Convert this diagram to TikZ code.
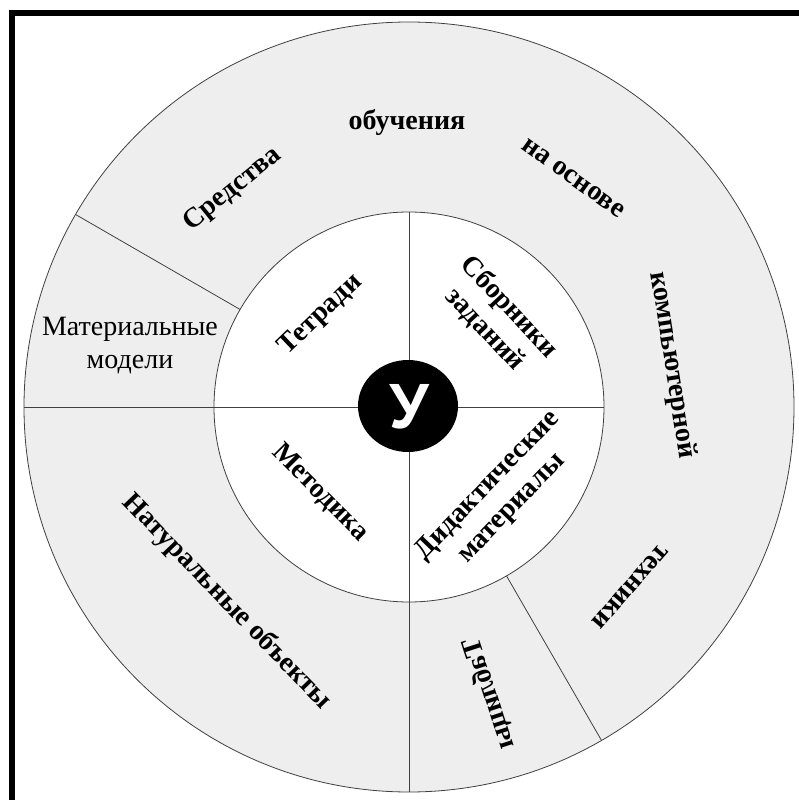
\documentclass[tikz,border=0pt]{standalone}
\usepackage{fontspec}
\setmainfont{Liberation Serif}
\newfontfamily\sansbold{Liberation Sans}
\definecolor{ringgray}{HTML}{EEEEEE}
\definecolor{linegray}{HTML}{404040}
\begin{document}
\begin{tikzpicture}[x=1pt,y=1pt,
  ringline/.style={draw=linegray, line width=0.8pt},
  btxt/.style={font=\fontsize{28}{33}\selectfont\bfseries, align=center, inner sep=0pt},
  rtxt/.style={font=\fontsize{28}{33}\selectfont, align=center, inner sep=0pt}]
\useasboundingbox (-409,-393) rectangle (390,407);
\fill[white] (-409,-393) rectangle (390,407);
% frame
\draw[line width=6pt, line join=miter] (-397,-400) -- (-397,394) -- (395,394);
% rings
\fill[ringgray] (0,0) circle (385);
\draw[ringline] (0,0) circle (385);
\fill[white] (0,0) circle (195);
\draw[ringline] (0,0) circle (195);
% dividers
\draw[ringline] (-385,0) -- (195,0);
\draw[ringline] (0,195) -- (0,-385);
\draw[ringline] (150:195) -- (150:385);
\draw[ringline] (300:195) -- (300:385);
% centre
\fill[black] (-1,1) ellipse (50 and 46);
\node[font=\fontsize{64}{64}\selectfont\sansbold\bfseries, text=white, inner sep=0pt] (u) at (0,0) {У};
% outer ring texts
\node[btxt, rotate=39] (sredstva) at (129:280) {Средства};
\node[btxt] (obuch) at (-2,284) {обучения};
\node[btxt, rotate=-35.6] (naosnove) at (164,229) {на основе};
\node[btxt, rotate=-81] (komp) at (263,42) {компьютерной};
\node[btxt, rotate=-131] (tehniki) at (221,-180) {техники};
\node[rtxt] (matmod) at (-279,61) {Материальные\\модели};
\node[btxt, rotate=-46] (natur) at (-182,-195) {Натуральные объекты};
\node[btxt, rotate=-72, yscale=-1] (tabl) at (80,-287) {Таблицы};
% inner texts
\node[btxt, rotate=43.7] (tetradi) at (-88,92) {Тетради};
\node[btxt, rotate=-47] (sborniki) at (88,89) {Сборники\\заданий};
\node[btxt, rotate=-45] (metodika) at (-89,-86) {Методика};
\node[btxt, rotate=46] (didakt) at (91,-90) {Дидактические\\материалы};
\end{tikzpicture}
\end{document}
